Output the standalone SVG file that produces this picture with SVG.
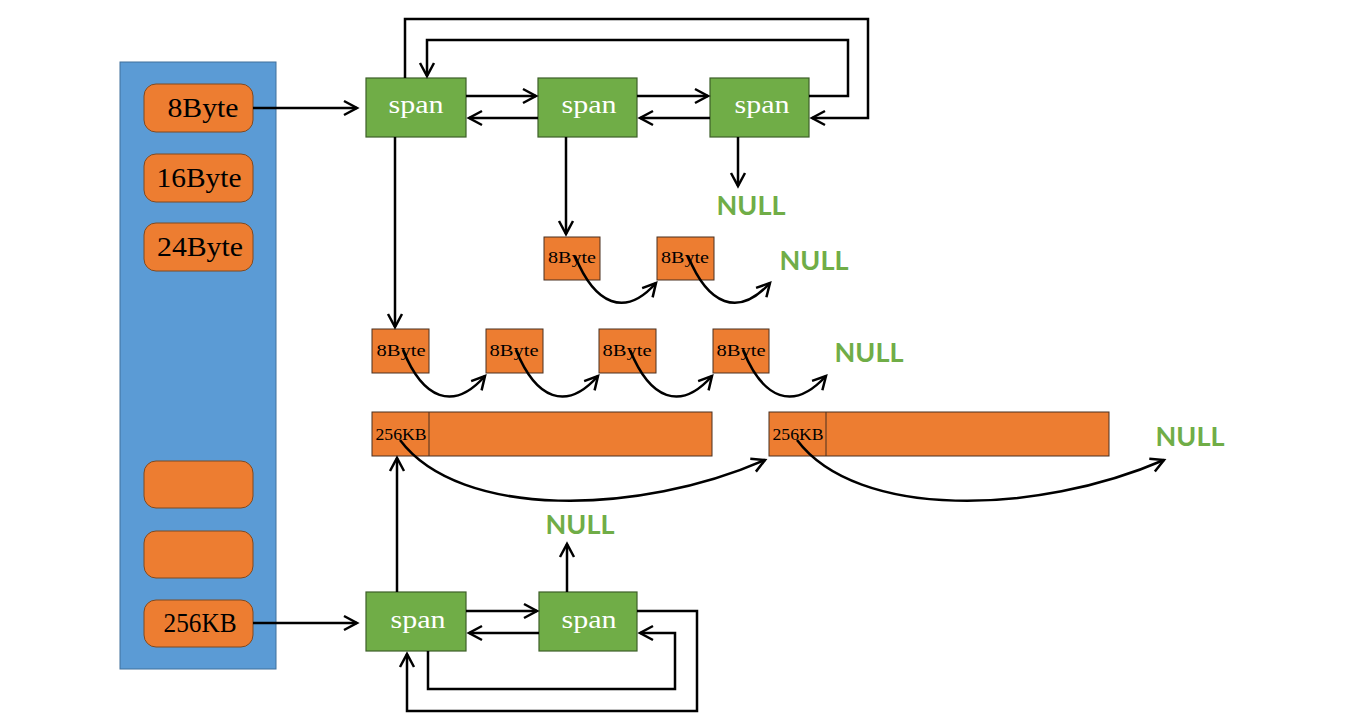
<svg xmlns="http://www.w3.org/2000/svg" width="1350" height="719" viewBox="0 0 1350 719">
<style>
.blue{fill:#5B9BD5;stroke:#41719C;stroke-width:1}
.cls{fill:#ED7D31;stroke:#7F4A22;stroke-width:1}
.span{fill:#70AD47;stroke:#3D5F28;stroke-width:1.2}
.obj{fill:#ED7D31;stroke:#4A3020;stroke-width:1}
.ct{font-family:"Liberation Serif","DejaVu Serif",serif;font-size:28px;fill:#000;text-anchor:middle}
.st{font-family:"Liberation Serif","DejaVu Serif",serif;font-size:25px;fill:#fff;text-anchor:middle}
.ot{font-family:"Liberation Serif","DejaVu Serif",serif;font-size:16px;fill:#000;text-anchor:middle}
.null{font-family:Lato,"Liberation Sans",sans-serif;font-weight:bold;font-size:27px;fill:#70AD47;text-anchor:middle}
.c path,.c line{fill:none;stroke:#000;stroke-width:2.5;marker-end:url(#a)}
</style>
<defs>
<marker id="a" markerUnits="userSpaceOnUse" markerWidth="18" markerHeight="18" refX="14" refY="8" orient="auto" overflow="visible">
<path d="M1,1 L14,8 L1,15" fill="none" stroke="#000" stroke-width="2.5"/>
</marker>
</defs>
<rect width="1350" height="719" fill="#fff"/>
<g id="central">
<rect class="blue" x="120" y="62" width="156" height="607"/>
</g>
<g id="c8"><rect class="cls" x="144" y="84" width="109" height="48" rx="12"/><text class="ct" x="203" y="117" textLength="71" lengthAdjust="spacingAndGlyphs">8Byte</text></g>
<g id="c16"><rect class="cls" x="144" y="154" width="109" height="48" rx="12"/><text class="ct" x="199" y="187" textLength="85" lengthAdjust="spacingAndGlyphs">16Byte</text></g>
<g id="c24"><rect class="cls" x="144" y="223" width="109" height="48" rx="12"/><text class="ct" x="200" y="256" textLength="86" lengthAdjust="spacingAndGlyphs">24Byte</text></g>
<g id="cx1"><rect class="cls" x="144" y="461" width="109" height="47" rx="12"/></g>
<g id="cx2"><rect class="cls" x="144" y="531" width="109" height="47" rx="12"/></g>
<g id="c256"><rect class="cls" x="144" y="600" width="109" height="47" rx="12"/><text class="ct" x="200" y="632" textLength="73" lengthAdjust="spacingAndGlyphs">256KB</text></g>

<g id="span1"><rect class="span" x="366" y="78" width="100" height="59"/><text class="st" x="416" y="113" textLength="55" lengthAdjust="spacingAndGlyphs">span</text></g>
<g id="span2"><rect class="span" x="538" y="78" width="99" height="59"/><text class="st" x="589" y="113" textLength="55" lengthAdjust="spacingAndGlyphs">span</text></g>
<g id="span3"><rect class="span" x="710" y="78" width="99" height="59"/><text class="st" x="762" y="113" textLength="55" lengthAdjust="spacingAndGlyphs">span</text></g>
<g id="span4"><rect class="span" x="366" y="592" width="100" height="59"/><text class="st" x="418" y="628" textLength="55" lengthAdjust="spacingAndGlyphs">span</text></g>
<g id="span5"><rect class="span" x="539" y="592" width="98" height="59"/><text class="st" x="589" y="628" textLength="55" lengthAdjust="spacingAndGlyphs">span</text></g>

<g id="objA1"><rect class="obj" x="544" y="237" width="56" height="43"/><text class="ot" x="572" y="263" textLength="48" lengthAdjust="spacingAndGlyphs">8Byte</text></g>
<g id="objA2"><rect class="obj" x="657" y="237" width="57" height="43"/><text class="ot" x="685" y="263" textLength="48" lengthAdjust="spacingAndGlyphs">8Byte</text></g>
<g id="objB1"><rect class="obj" x="372" y="329" width="57" height="44"/><text class="ot" x="401" y="356" textLength="49" lengthAdjust="spacingAndGlyphs">8Byte</text></g>
<g id="objB2"><rect class="obj" x="486" y="329" width="57" height="44"/><text class="ot" x="514" y="356" textLength="49" lengthAdjust="spacingAndGlyphs">8Byte</text></g>
<g id="objB3"><rect class="obj" x="599" y="329" width="57" height="44"/><text class="ot" x="627" y="356" textLength="49" lengthAdjust="spacingAndGlyphs">8Byte</text></g>
<g id="objB4"><rect class="obj" x="713" y="329" width="56" height="44"/><text class="ot" x="741" y="356" textLength="49" lengthAdjust="spacingAndGlyphs">8Byte</text></g>

<g id="big1"><rect class="obj" x="372" y="412" width="340" height="44"/><line x1="429" y1="412" x2="429" y2="456" stroke="#4A3020" stroke-width="1"/><text class="ot" x="401" y="440" font-size="18" textLength="51" lengthAdjust="spacingAndGlyphs">256KB</text></g>
<g id="big2"><rect class="obj" x="769" y="412" width="340" height="44"/><line x1="826" y1="412" x2="826" y2="456" stroke="#4A3020" stroke-width="1"/><text class="ot" x="798" y="440" font-size="18" textLength="51" lengthAdjust="spacingAndGlyphs">256KB</text></g>

<g id="nulls">
<text class="null" x="751" y="215">NULL</text>
<text class="null" x="814" y="270">NULL</text>
<text class="null" x="869" y="362">NULL</text>
<text class="null" x="1190" y="446">NULL</text>
<text class="null" x="580" y="534">NULL</text>
</g>

<g id="connectors" class="c">
<line x1="253" y1="108" x2="357" y2="108"/>
<line x1="253" y1="623" x2="357" y2="623"/>
<line x1="466" y1="96" x2="536" y2="96"/>
<line x1="538" y1="118" x2="469" y2="118"/>
<line x1="637" y1="96" x2="708" y2="96"/>
<line x1="710" y1="118" x2="640" y2="118"/>
<path d="M405,78 V19 H868 V118 H812"/>
<path d="M809,96 H848 V40 H427 V76"/>
<line x1="738" y1="137" x2="738" y2="186"/>
<line x1="566" y1="137" x2="566" y2="234"/>
<line x1="395" y1="137" x2="395" y2="327"/>
<path d="M575,256 C595,305 625,318 656,283"/>
<path d="M688,256 C708,305 738,318 770,283"/>
<path d="M403,350 C423,399 453,412 485,376"/>
<path d="M516,350 C536,399 566,412 598,376"/>
<path d="M630,350 C650,399 680,412 712,376"/>
<path d="M743,350 C763,399 793,412 826,376"/>
<path d="M400,440 C460,520 640,515 765,460"/>
<path d="M797,440 C857,520 1037,515 1164,460"/>
<line x1="397" y1="592" x2="397" y2="458"/>
<line x1="567" y1="592" x2="567" y2="544"/>
<line x1="466" y1="611" x2="537" y2="611"/>
<line x1="539" y1="633" x2="469" y2="633"/>
<path d="M428,651 V689 H675 V633 H640"/>
<path d="M637,611 H697 V711 H407 V654"/>
</g>
</svg>
